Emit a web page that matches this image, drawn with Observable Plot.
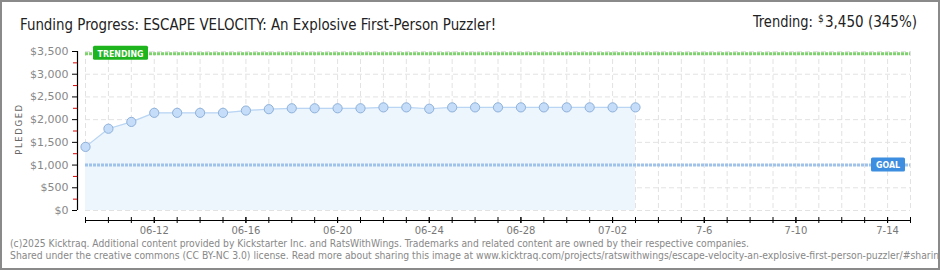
<!DOCTYPE html>
<html>
<head>
<meta charset="utf-8">
<script src="https://cdn.jsdelivr.net/npm/d3@7"></script>
<script src="https://cdn.jsdelivr.net/npm/@observablehq/plot@0.6"></script>
<style>
  html, body { margin: 0; padding: 0; background: #fff; }
  #chart svg { display: block; }
</style>
</head>
<body>
<div id="chart"></div>
<script>
// ---- data ----
const dates = ["2025-06-09","2025-06-10","2025-06-11","2025-06-12","2025-06-13","2025-06-14","2025-06-15",
  "2025-06-16","2025-06-17","2025-06-18","2025-06-19","2025-06-20","2025-06-21","2025-06-22","2025-06-23",
  "2025-06-24","2025-06-25","2025-06-26","2025-06-27","2025-06-28","2025-06-29","2025-06-30","2025-07-01",
  "2025-07-02","2025-07-03"];
const pledged = [1400, 1800, 1950, 2150, 2150, 2150, 2150,
  2200, 2230, 2250, 2250, 2250, 2250, 2270, 2270,
  2240, 2270, 2270, 2270, 2270, 2270, 2270, 2270,
  2270, 2270];
const goal = 1000;
const trending = 3450;
const xStart = "2025-06-09";
const xEnd = "2025-07-15";
const xTickDates = ["2025-06-12","2025-06-16","2025-06-20","2025-06-24","2025-06-28","2025-07-02","2025-07-06","2025-07-10","2025-07-14"];
const xTickLabels = ["06-12","06-16","06-20","06-24","06-28","07-02","7-6","7-10","7-14"];
const yTicks = [0, 500, 1000, 1500, 2000, 2500, 3000, 3500];
const yMinorTicks = [250, 750, 1250, 1750, 2250, 2750, 3250];
const titleText = "Funding Progress: ESCAPE VELOCITY: An Explosive First-Person Puzzler!";
const footer1 = "(c)2025 Kicktraq. Additional content provided by Kickstarter Inc. and RatsWithWings. Trademarks and related content are owned by their respective companies.";
const footer2 = "Shared under the creative commons (CC BY-NC 3.0) license. Read more about sharing this image at www.kicktraq.com/projects/ratswithwings/escape-velocity-an-explosive-first-person-puzzler/#sharing";

// ---- build ----
const data = dates.map((d, i) => ({date: new Date(d), pledged: pledged[i]}));
const x0 = new Date(xStart), x1 = new Date(xEnd);
const allDays = d3.utcDay.range(x0, d3.utcDay.offset(x1, 1));
const tickDates = xTickDates.map(d => new Date(d));
const labelMap = new Map(tickDates.map((d, i) => [+d, xTickLabels[i]]));
const fmt = d3.format(",");

const chart = Plot.plot({
  width: 940,
  height: 270,
  marginLeft: 85,
  marginRight: 30,
  marginTop: 51,
  marginBottom: 60,
  style: {fontFamily: "'DejaVu Sans', sans-serif", background: "#fff", overflow: "visible"},
  x: {type: "utc", domain: [x0, x1]},
  y: {domain: [0, 3500]},
  marks: [
    // grid
    Plot.ruleX(allDays, {stroke: "#e2e2e2", strokeDasharray: "5,3"}),
    Plot.ruleY(yTicks, {stroke: "#e2e2e2", strokeDasharray: "5,3"}),
    // area, line, dots
    Plot.areaY(data, {x: "date", y: "pledged", fill: "#edf5fd"}),
    Plot.lineY(data, {x: "date", y: "pledged", stroke: "#b9d5f3", strokeWidth: 1.2}),
    // goal & trending
    Plot.ruleY([goal], {stroke: "#9fc2ea", strokeWidth: 3, strokeDasharray: "3,1"}),
    Plot.ruleY([trending], {stroke: "#80d26f", strokeWidth: 3, strokeDasharray: "3,1"}),
    Plot.dot(data, {x: "date", y: "pledged", r: 4.6, fill: "#c5ddf8", stroke: "#8fb1da", strokeWidth: 1}),
    // axes lines
    Plot.ruleX([x0], {dx: -8, stroke: "#000", strokeWidth: 1.2}),
    Plot.ruleY([0], {dy: 10, stroke: "#000", strokeWidth: 1.2}),
    // y axis
    Plot.axisY({ticks: yMinorTicks, tickSize: 4, dx: -8, text: null, stroke: "#e00000", label: null}),
    Plot.axisY({ticks: yTicks, tickSize: 5, dx: -8, tickPadding: 4, stroke: "#000", fill: "#888",
      fontSize: 11, tickFormat: d => "$" + fmt(d), label: null}),
    // x axis
    Plot.axisX({ticks: allDays, tickSize: 6, dy: 7, text: null, stroke: "#000", label: null}),
    Plot.axisX({ticks: tickDates, tickSize: 6, dy: 7, tickPadding: 3, stroke: "#000", fill: "#777",
      fontSize: 10, tickFormat: d => labelMap.get(+d), label: null})
  ]
});

document.getElementById("chart").appendChild(chart);
const svg = d3.select(chart);
const xs = chart.scale("x"), ys = chart.scale("y");
const headFont = "'DejaVu Sans Condensed', 'Liberation Sans Narrow', 'DejaVu Sans', sans-serif";

// border
svg.append("rect").attr("x", 1).attr("y", 1).attr("width", 938).attr("height", 268)
  .attr("fill", "none").attr("stroke", "#8a8a8a").attr("stroke-width", 2);

// title
svg.append("text").attr("x", 20).attr("y", 30).attr("font-size", 16).attr("text-anchor", "start")
  .attr("font-family", headFont)
  .attr("fill", "#222").attr("textLength", 476).attr("lengthAdjust", "spacingAndGlyphs").text(titleText);

// trending header
const th = svg.append("text").attr("y", 27).attr("text-anchor", "start")
  .attr("font-size", 16).attr("fill", "#222").attr("font-family", headFont);
th.append("tspan").attr("x", 753).attr("textLength", 60).attr("lengthAdjust", "spacingAndGlyphs").text("Trending:");
th.append("tspan").attr("x", 818).attr("font-size", 10).attr("dy", -5).text("$");
th.append("tspan").attr("x", 825).attr("dy", 5).attr("textLength", 92).attr("lengthAdjust", "spacingAndGlyphs").text("3,450 (345%)");

// y label
svg.append("text").attr("transform", "translate(22,129) rotate(-90)").attr("text-anchor", "middle")
  .attr("font-size", 8.5).attr("letter-spacing", 1.6).attr("fill", "#666").text("PLEDGED");

// trending label
const xl = xs.apply(x0) + 8, yt = ys.apply(trending);
svg.append("rect").attr("x", xl).attr("y", yt - 7.5).attr("width", 55).attr("height", 14).attr("rx", 1.5)
  .attr("fill", "#1eb41e");
svg.append("text").attr("x", xl + 27.5).attr("y", yt + 3.5).attr("text-anchor", "middle")
  .attr("font-size", 8.5).attr("font-weight", "bold").attr("fill", "#fff")
  .attr("textLength", 46).attr("lengthAdjust", "spacingAndGlyphs").text("TRENDING");

// goal label
const xr = xs.apply(x1) - 39, yg = ys.apply(goal);
svg.append("rect").attr("x", xr).attr("y", yg - 7).attr("width", 34).attr("height", 14).attr("rx", 1.5)
  .attr("fill", "#3d8de0");
svg.append("text").attr("x", xr + 17).attr("y", yg + 3.5).attr("text-anchor", "middle")
  .attr("font-size", 8.5).attr("font-weight", "bold").attr("fill", "#fff")
  .attr("textLength", 24).attr("lengthAdjust", "spacingAndGlyphs").text("GOAL");

// footer
svg.append("text").attr("x", 10).attr("y", 247).attr("font-size", 10).attr("fill", "#888").attr("text-anchor", "start")
  .attr("font-family", "'DejaVu Sans', sans-serif")
  .attr("textLength", 739).attr("lengthAdjust", "spacingAndGlyphs").text(footer1);
svg.append("text").attr("x", 10).attr("y", 259).attr("font-size", 10).attr("fill", "#888").attr("text-anchor", "start")
  .attr("font-family", "'DejaVu Sans', sans-serif")
  .attr("textLength", 935).attr("lengthAdjust", "spacingAndGlyphs").text(footer2);
</script>
</body>
</html>
